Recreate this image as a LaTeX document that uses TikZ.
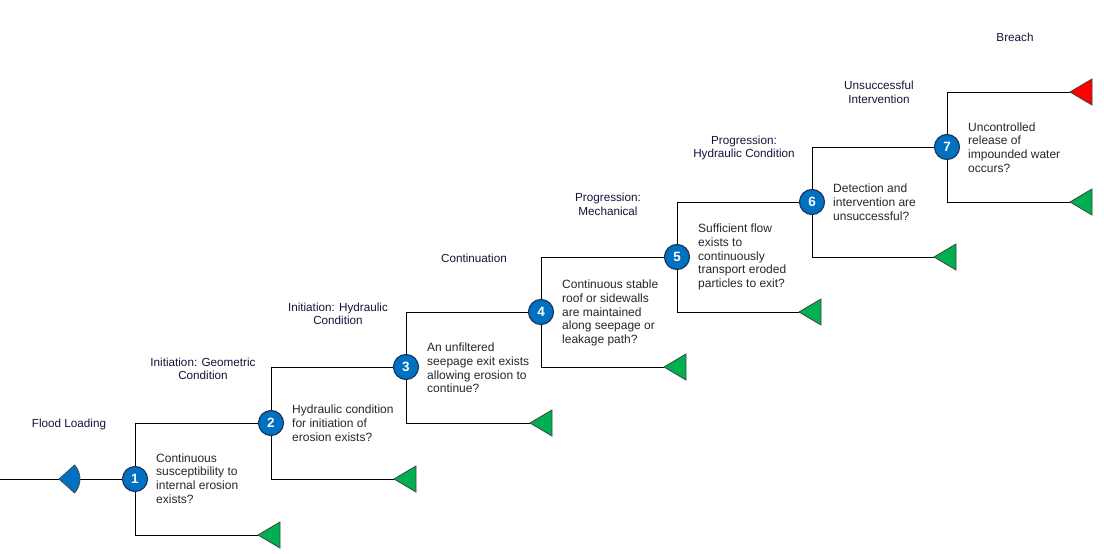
\documentclass[tikz,border=0pt]{standalone}
\usepackage{fontspec}
\setmainfont{Liberation Sans}
\definecolor{cblue}{RGB}{0,112,192}
\definecolor{cedge}{RGB}{30,55,95}
\definecolor{tgreen}{RGB}{0,176,80}
\definecolor{tred}{RGB}{255,0,0}
\definecolor{phase}{RGB}{20,20,60}
\begin{document}
\begin{tikzpicture}[x=1pt,y=-1pt,
  num/.style={circle, fill=cblue, draw=cedge, line width=1.2pt, minimum size=25pt, inner sep=0pt, text=white, font=\fontsize{13.5}{13.5}\selectfont\bfseries},
  desc/.style={align=left, anchor=west, inner sep=0pt, font=\fontsize{12}{13.8}\selectfont, text=black!85},
  phaselbl/.style={align=center, inner sep=0pt, font=\fontsize{11.7}{13.4}\selectfont, text=phase},
  conn/.style={draw=black, line width=1pt},
  tri/.pic={\filldraw[fill=#1, draw=black!75, line width=0.8pt] (0,0) -- (22,-13) -- (22,13) -- cycle;}
]
\useasboundingbox (0,0) rectangle (1104,554);
% decision nodes
\node[num] (c1) at (135,479) {1};
\node[num] (c2) at (271,423) {2};
\node[num] (c3) at (406,367) {3};
\node[num] (c4) at (541,312) {4};
\node[num] (c5) at (677,257) {5};
\node[num] (c6) at (812,202) {6};
\node[num] (c7) at (947,147) {7};
% end points
\coordinate (start) at (0,479);
\coordinate (t1) at (258,535);
\coordinate (t2) at (394,479);
\coordinate (t3) at (530,423);
\coordinate (t4) at (664,367);
\coordinate (t5) at (799,312);
\coordinate (t6) at (934,257);
\coordinate (t7) at (1070,202);
\coordinate (t8) at (1070,92);
% connectors
\draw[conn] (start) -- (c1);
\draw[conn] (c1) |- (c2);
\draw[conn] (c1) |- (t1);
\draw[conn] (c2) |- (c3);
\draw[conn] (c2) |- (t2);
\draw[conn] (c3) |- (c4);
\draw[conn] (c3) |- (t3);
\draw[conn] (c4) |- (c5);
\draw[conn] (c4) |- (t4);
\draw[conn] (c5) |- (c6);
\draw[conn] (c5) |- (t5);
\draw[conn] (c6) |- (c7);
\draw[conn] (c6) |- (t6);
\draw[conn] (c7) |- (t8);
\draw[conn] (c7) |- (t7);
% initiating event marker
\filldraw[fill=cblue, draw=black!70, line width=0.8pt] (59,479) -- (74.6,465) .. controls (81.8,472.9) and (81.8,485.1) .. (74.6,493) -- cycle;
% end triangles
\pic at (t1) {tri=tgreen};
\pic at (t2) {tri=tgreen};
\pic at (t3) {tri=tgreen};
\pic at (t4) {tri=tgreen};
\pic at (t5) {tri=tgreen};
\pic at (t6) {tri=tgreen};
\pic at (t7) {tri=tgreen};
\pic at (t8) {tri=tred};
% descriptions
\node[desc] (d1) at (156,478.5) {Continuous\\susceptibility to\\internal erosion\\exists?};
\node[desc] (d2) at (292,423) {Hydraulic condition\\for initiation of\\erosion exists?};
\node[desc] (d3) at (427,368) {An unfiltered\\seepage exit exists\\allowing erosion to\\continue?};
\node[desc] (d4) at (562,313) {Continuous stable\\roof or sidewalls\\are maintained\\along seepage or\\leakage path?};
\node[desc] (d5) at (698,257) {Sufficient flow\\exists to\\continuously\\transport eroded\\particles to exit?};
\node[desc] (d6) at (833,202) {Detection and\\intervention are\\unsuccessful?};
\node[desc] (d7) at (968,147.5) {Uncontrolled\\release of\\impounded water\\occurs?};
% phase labels
\node[phaselbl] (p0) at (69,424) {Flood Loading};
\node[phaselbl] (p1) at (203,369) {Initiation: Geometric\\Condition};
\node[phaselbl] (p2) at (338,314) {Initiation: Hydraulic\\Condition};
\node[phaselbl] (p3) at (474,258) {Continuation};
\node[phaselbl] (p4) at (608,204.5) {Progression:\\Mechanical};
\node[phaselbl] (p5) at (744,148) {Progression:\\Hydraulic Condition};
\node[phaselbl] (p6) at (879,92.5) {Unsuccessful\\Intervention};
\node[phaselbl] (p7) at (1015,37) {Breach};
\end{tikzpicture}
\end{document}
